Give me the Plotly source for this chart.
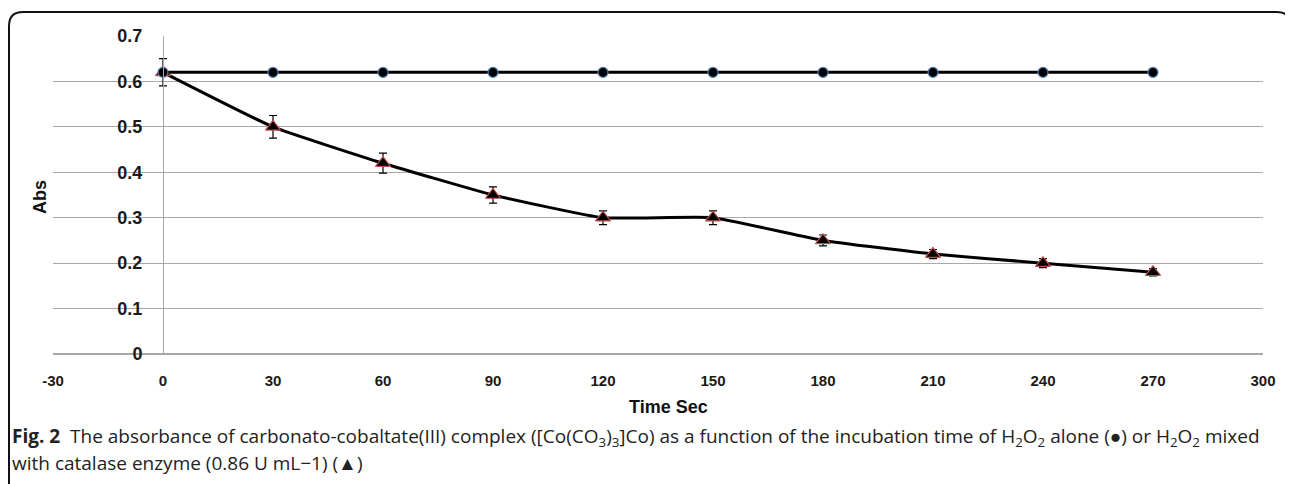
import plotly.graph_objects as go

# ---- data ----
time_sec = [0, 30, 60, 90, 120, 150, 180, 210, 240, 270]
h2o2_alone = [0.62, 0.62, 0.62, 0.62, 0.62, 0.62, 0.62, 0.62, 0.62, 0.62]
h2o2_catalase = [0.62, 0.50, 0.42, 0.35, 0.30, 0.30, 0.25, 0.22, 0.20, 0.18]
catalase_err = [0.03, 0.025, 0.022, 0.018, 0.015, 0.015, 0.012, 0.01, 0.01, 0.008]
x_tick_vals = [-30, 0, 30, 60, 90, 120, 150, 180, 210, 240, 270, 300]
x_tick_labels = ["-30", "0", "30", "60", "90", "120", "150", "180", "210", "240", "270", "300"]
y_tick_vals = [0, 0.1, 0.2, 0.3, 0.4, 0.5, 0.6, 0.7]
y_tick_labels = ["0", "0.1", "0.2", "0.3", "0.4", "0.5", "0.6", "0.7"]

# page body adds an 8px offset; compensate so the plot lands where the reference has it
OFF = 8
PAGE_W, PAGE_H = 1293, 484
W, H = PAGE_W - OFF, PAGE_H - OFF
L_ABS, T_ABS, R, B = 53, 36, 30, 130
L, T = L_ABS - OFF, T_ABS - OFF
PW = PAGE_W - L_ABS - R
PH = PAGE_H - T_ABS - B


def px(p):
    return (p - L_ABS) / PW


def py(q):
    return (PAGE_H - B - q) / PH


fig = go.Figure()

fig.add_trace(go.Scatter(
    x=time_sec, y=h2o2_catalase, mode="lines+markers",
    line=dict(color="black", width=3, shape="spline", smoothing=0.4),
    marker=dict(symbol="triangle-up", size=13, color="black",
                line=dict(color="#c0504d", width=1.2)),
    error_y=dict(type="data", array=catalase_err, visible=True,
                 color="black", thickness=1.2, width=4),
    showlegend=False,
))
fig.add_trace(go.Scatter(
    x=time_sec, y=h2o2_alone, mode="lines+markers",
    line=dict(color="black", width=3),
    marker=dict(symbol="circle", size=10, color="black",
                line=dict(color="#4f81bd", width=1.2)),
    showlegend=False,
))

fig.update_layout(
    width=W, height=H,
    margin=dict(l=L, r=R, t=T, b=B),
    paper_bgcolor="white", plot_bgcolor="white",
    xaxis=dict(range=[-30, 300], tickvals=x_tick_vals, ticktext=x_tick_labels,
               showgrid=False, zeroline=False, showline=False, ticks="",
               ticklabelstandoff=16,
               tickfont=dict(family="Liberation Sans", size=15, color="#1a1a1a", weight="bold")),
    yaxis=dict(range=[0, 0.7], tickvals=y_tick_vals, ticktext=y_tick_labels,
               showgrid=True, gridcolor="#a8a8a8", gridwidth=1,
               zeroline=True, zerolinecolor="#a8a8a8", zerolinewidth=1.5,
               showline=True, linecolor="#a8a8a8", linewidth=1,
               anchor="free", position=30 / 330, ticks="",
               ticklabelstandoff=17,
               tickfont=dict(family="Liberation Sans", size=18, color="#1a1a1a", weight=600)),
)

annotations = [
    dict(text="<b>Abs</b>", x=px(40), y=py(197), textangle=-90,
         font=dict(family="Liberation Sans", size=18, color="#111")),
    dict(text="<b>Time Sec</b>", x=px(668), y=py(407),
         font=dict(family="Liberation Sans", size=18, color="#111")),
    dict(text="<b>Fig. 2</b>  The absorbance of carbonato-cobaltate(III) complex ([Co(CO<sub>3</sub>)<sub>3</sub>]Co) "
              "as a function of the incubation time of H<sub>2</sub>O<sub>2</sub> alone (●) or H<sub>2</sub>O<sub>2</sub> mixed",
         x=px(10), y=py(437), xanchor="left",
         font=dict(family="Open Sans", size=19, color="#222")),
    dict(text="with catalase enzyme (0.86 U mL−1) (▲)",
         x=px(10), y=py(463), xanchor="left",
         font=dict(family="Open Sans", size=19, color="#222")),
]
for a in annotations:
    a.update(xref="paper", yref="paper", showarrow=False)
    a.setdefault("xanchor", "center")
    a.setdefault("yanchor", "middle")
fig.update_layout(annotations=annotations)

# rounded frame around the figure
x0, x1 = px(9), px(1291)
yt, yb = py(12), py(495)
rx, ry = 14 / PW, 14 / PH
path = (f"M {x0},{yb} L {x0},{yt - ry} Q {x0},{yt} {x0 + rx},{yt} "
        f"L {x1 - rx},{yt} Q {x1},{yt} {x1},{yt - ry} L {x1},{yb}")
fig.add_shape(type="path", path=path, xref="paper", yref="paper",
              line=dict(color="#111", width=2))

fig.write_html("out.html")
